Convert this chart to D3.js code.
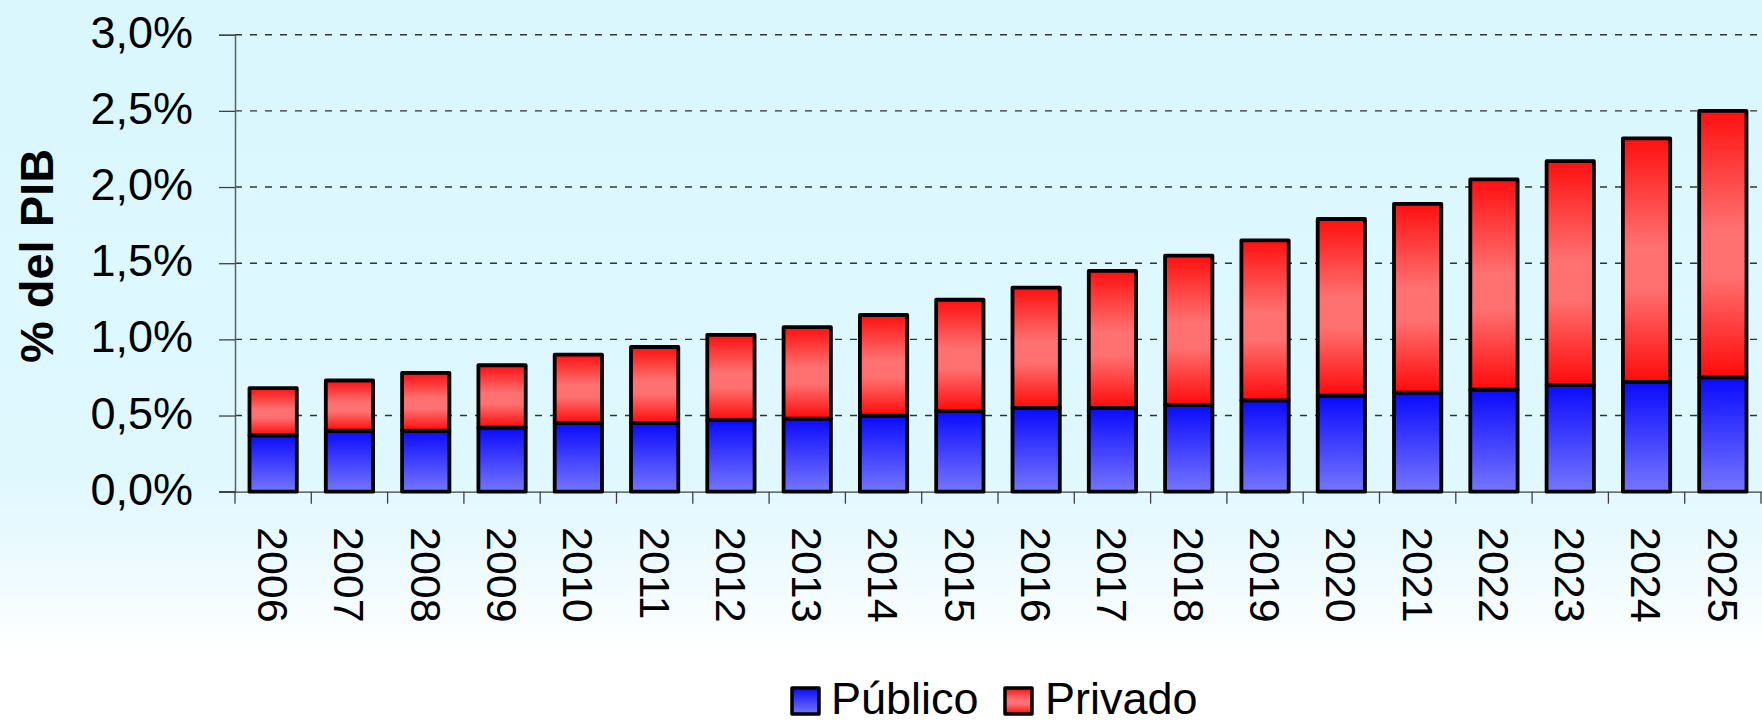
<!DOCTYPE html>
<html>
<head>
<meta charset="utf-8">
<script src="https://cdn.jsdelivr.net/npm/d3@7"></script>
<style>
  html, body { margin: 0; padding: 0; background: #ffffff; }
  svg { display: block; font-family: "Liberation Sans", Arial, sans-serif; }
</style>
</head>
<body>
<svg id="chart" width="1762" height="724"></svg>
<script>
// ---- data ----
const years   = ["2006","2007","2008","2009","2010","2011","2012","2013","2014","2015",
                 "2016","2017","2018","2019","2020","2021","2022","2023","2024","2025"];
const publico = [0.37,0.40,0.40,0.42,0.45,0.45,0.47,0.48,0.50,0.53,
                 0.55,0.55,0.57,0.60,0.63,0.65,0.67,0.70,0.72,0.75];
const privado = [0.31,0.33,0.38,0.41,0.45,0.50,0.56,0.60,0.66,0.73,
                 0.79,0.90,0.98,1.05,1.16,1.24,1.38,1.47,1.60,1.75];
const yTicks  = [0, 0.5, 1.0, 1.5, 2.0, 2.5, 3.0];
const seriesNames = ["Público", "Privado"];
const yTitle = "% del PIB";

// ---- layout ----
const W = 1762, H = 724;
const x0 = 235, x1 = 1761, yTop = 34.7, yBase = 491.7;

const svg = d3.select("#chart");
const defs = svg.append("defs");

// background gradient
const bg = defs.append("linearGradient").attr("id","bg").attr("x1",0).attr("y1",0).attr("x2",0).attr("y2",1);
bg.append("stop").attr("offset","0%").attr("stop-color","#daf7fe");
bg.append("stop").attr("offset","66%").attr("stop-color","#dff8fe");
bg.append("stop").attr("offset","80%").attr("stop-color","#f0fbff");
bg.append("stop").attr("offset","90%").attr("stop-color","#ffffff");
bg.append("stop").attr("offset","100%").attr("stop-color","#ffffff");
svg.append("rect").attr("width",W).attr("height",H).attr("fill","url(#bg)");

// bar gradients
const gBlue = defs.append("linearGradient").attr("id","gBlue").attr("x1",0).attr("y1",0).attr("x2",0).attr("y2",1);
gBlue.append("stop").attr("offset","0%").attr("stop-color","#0a0aff");
gBlue.append("stop").attr("offset","100%").attr("stop-color","#7676ff");
const gRed = defs.append("linearGradient").attr("id","gRed").attr("x1",0).attr("y1",0).attr("x2",0).attr("y2",1);
gRed.append("stop").attr("offset","0%").attr("stop-color","#ff1010");
gRed.append("stop").attr("offset","45%").attr("stop-color","#ff7272");
gRed.append("stop").attr("offset","62%").attr("stop-color","#ff7070");
gRed.append("stop").attr("offset","100%").attr("stop-color","#ff0a0a");

// ---- scales ----
const x = d3.scaleBand().domain(years).range([x0, x1]).paddingInner(0.38).paddingOuter(0.19);
const y = d3.scaleLinear().domain([0, 3]).range([yBase, yTop]);

// gridlines
svg.append("g").selectAll("line").data(yTicks.filter(d => d > 0)).join("line")
  .attr("x1", x0).attr("x2", x1)
  .attr("y1", d => y(d)).attr("y2", d => y(d))
  .attr("stroke", "#333333").attr("stroke-width", 1.4)
  .attr("stroke-dasharray", "7,8");

// y axis
const fmt = d => d.toFixed(1).replace(".", ",") + "%";
const yAxis = svg.append("g").attr("transform", `translate(${x0},0)`)
  .call(d3.axisLeft(y).tickValues(yTicks).tickFormat(fmt).tickSize(16).tickPadding(26));
yAxis.select(".domain").attr("stroke", "#606060").attr("stroke-width", 1.5);
yAxis.selectAll(".tick line").attr("stroke", "#404040").attr("stroke-width", 1.3);
yAxis.selectAll(".tick text")
  .attr("font-family", "Liberation Sans, Arial, sans-serif")
  .attr("font-size", 45).attr("fill", "#000").attr("dy", "0.28em");

// x axis
const xAxis = svg.append("g").attr("transform", `translate(0,${yBase})`)
  .call(d3.axisBottom(x).tickSize(0).tickFormat(""));
xAxis.select(".domain").attr("stroke", "#404040").attr("stroke-width", 1.3);
// category boundary ticks
const bounds = d3.range(years.length + 1).map(i => x0 + i * x.step());
svg.append("g").selectAll("line").data(bounds).join("line")
  .attr("x1", d => d).attr("x2", d => d)
  .attr("y1", yBase).attr("y2", yBase + 12)
  .attr("stroke", "#404040").attr("stroke-width", 1.3);
svg.append("line").attr("x1", x0 - 16).attr("x2", x0).attr("y1", yBase).attr("y2", yBase)
  .attr("stroke", "#404040").attr("stroke-width", 1.3);

// x labels rotated
svg.append("g").selectAll("text").data(years).join("text")
  .attr("transform", d => `translate(${x(d) + x.bandwidth() / 2},527) rotate(90)`)
  .attr("dy", "0.35em")
  .attr("text-anchor", "start")
  .attr("font-size", 43)
  .attr("fill", "#000")
  .text(d => d);

// y title
svg.append("text")
  .attr("transform", `translate(36,256) rotate(-90)`)
  .attr("text-anchor", "middle").attr("dy", "0.36em")
  .attr("font-size", 47).attr("font-weight", "bold").attr("fill", "#000")
  .text(yTitle);

// ---- stacked bars ----
const rows = years.map((yr, i) => ({ year: yr, "Público": publico[i], "Privado": privado[i] }));
const stack = d3.stack().keys(seriesNames)(rows);
const fills = { "Público": "url(#gBlue)", "Privado": "url(#gRed)" };

svg.append("g").selectAll("g").data(stack).join("g")
  .attr("fill", d => fills[d.key])
  .selectAll("rect").data(d => d).join("rect")
  .attr("x", d => x(d.data.year))
  .attr("width", x.bandwidth())
  .attr("y", d => y(d[1]))
  .attr("height", d => y(d[0]) - y(d[1]))
  .attr("stroke", "#000").attr("stroke-width", 3.8)
  .attr("stroke-linejoin", "round");

// ---- legend ----
const legend = svg.append("g");
const legItems = [
  { name: seriesNames[0], fill: "url(#gBlue)", bx: 792, tx: 831 },
  { name: seriesNames[1], fill: "url(#gRed)",  bx: 1005, tx: 1045 }
];
legItems.forEach(it => {
  legend.append("rect").attr("x", it.bx).attr("y", 688).attr("width", 27).attr("height", 26)
    .attr("fill", it.fill).attr("stroke", "#000").attr("stroke-width", 3.5).attr("stroke-linejoin", "round");
  legend.append("text").attr("x", it.tx).attr("y", 714)
    .attr("font-size", 45).attr("fill", "#000").text(it.name);
});
</script>
</body>
</html>
